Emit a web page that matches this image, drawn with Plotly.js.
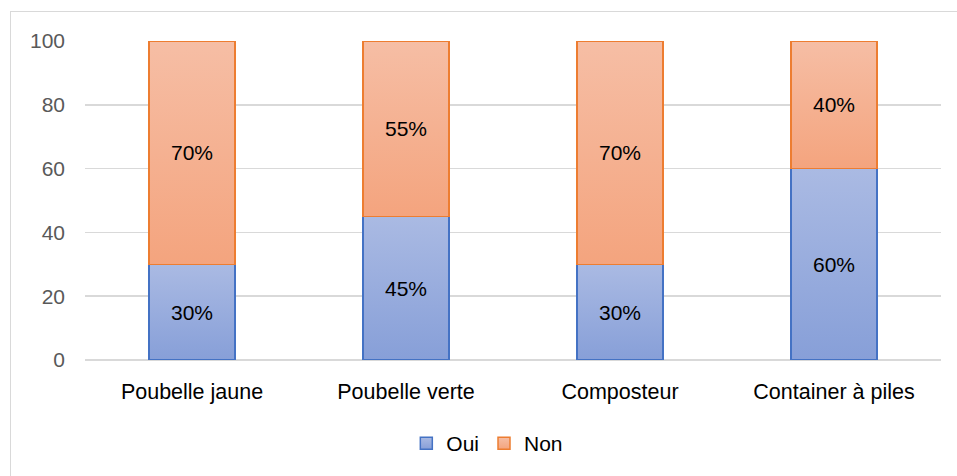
<!DOCTYPE html>
<html><head><meta charset="utf-8">
<script src="https://cdn.plot.ly/plotly-3.0.1.min.js"></script>
<style>
html,body{margin:0;padding:0;background:#fff;}
#wrap{position:relative;width:957px;height:476px;overflow:hidden;}
#chart{width:957px;height:476px;}
#frame{position:absolute;left:10px;top:11px;width:960px;height:480px;border:1px solid #D9D9D9;pointer-events:none;}
</style></head>
<body><div id="wrap"><div id="chart"></div><div id="frame"></div></div>
<script>
const categories = ["Poubelle jaune", "Poubelle verte", "Composteur", "Container à piles"];
const oui = [30, 45, 30, 60];
const non = [70, 55, 70, 40];
const seriesNames = ["Oui", "Non"];

const F = "Liberation Sans, Arial, sans-serif";
const traces = [
  {type:"bar", name:seriesNames[0], x:categories, y:oui,
   text: oui.map(v=>v+"%"), textposition:"inside", insidetextanchor:"middle",
   textfont:{family:F,size:21,color:"#000"},
   marker:{color:"#9AADDD", line:{color:"#4472C4", width:1.5}}},
  {type:"bar", name:seriesNames[1], x:categories, y:non,
   text: non.map(v=>v+"%"), textposition:"inside", insidetextanchor:"middle",
   textfont:{family:F,size:21,color:"#000"},
   marker:{color:"#F5B192", line:{color:"#ED7D31", width:1.5}}}
];
const layout = {
  width:957, height:476, barmode:"stack", bargap:0.6,
  margin:{l:85, r:16, t:41, b:116},
  paper_bgcolor:"#fff", plot_bgcolor:"#fff",
  font:{family:F, size:21, color:"#000"},
  xaxis:{showgrid:false, zeroline:false, showline:false, ticks:"", ticklabelstandoff:16,
         tickfont:{family:F,size:21.5,color:"#000"}},
  yaxis:{range:[0,100], dtick:20, showgrid:true, gridcolor:"#D9D9D9", gridwidth:1.5,
         zeroline:true, zerolinecolor:"#D9D9D9", zerolinewidth:1.5, showline:false, ticks:"",
         ticklabelstandoff:19, tickfont:{family:F,size:21,color:"#595959"}},
  showlegend:true,
  legend:{orientation:"h", x:0.47, xanchor:"center", y:-0.262, yanchor:"middle",
          font:{family:F,size:21,color:"#000"}, itemwidth:30, traceorder:"normal"}
};
Plotly.newPlot("chart", traces, layout, {displayModeBar:false, staticPlot:true}).then(function(gd){
  const svg = gd.querySelector("svg.main-svg");
  const ns = "http://www.w3.org/2000/svg";
  const defs = svg.querySelector("defs") || svg.insertBefore(document.createElementNS(ns,"defs"), svg.firstChild);
  function grad(id, c1, c2){
    const g = document.createElementNS(ns,"linearGradient");
    g.setAttribute("id", id); g.setAttribute("x1","0"); g.setAttribute("y1","0");
    g.setAttribute("x2","0"); g.setAttribute("y2","1");
    [[0,c1],[1,c2]].forEach(function(s){
      const st = document.createElementNS(ns,"stop");
      st.setAttribute("offset", s[0]); st.setAttribute("stop-color", s[1]);
      g.appendChild(st);
    });
    defs.appendChild(g);
  }
  grad("gOui", "#AABAE3", "#879FD8");
  grad("gNon", "#F6BEA5", "#F4A47E");
  const ids = ["gOui","gNon"];
  gd.querySelectorAll(".barlayer .trace").forEach(function(t, i){
    t.querySelectorAll(".point path").forEach(function(p){ p.style.fill = "url(#"+ids[i]+")"; });
  });
  gd.querySelectorAll(".legend .traces").forEach(function(t, i){
    t.querySelectorAll(".legendpoints path").forEach(function(p){ p.style.fill = "url(#"+ids[i]+")"; });
  });
});
</script></body></html>
